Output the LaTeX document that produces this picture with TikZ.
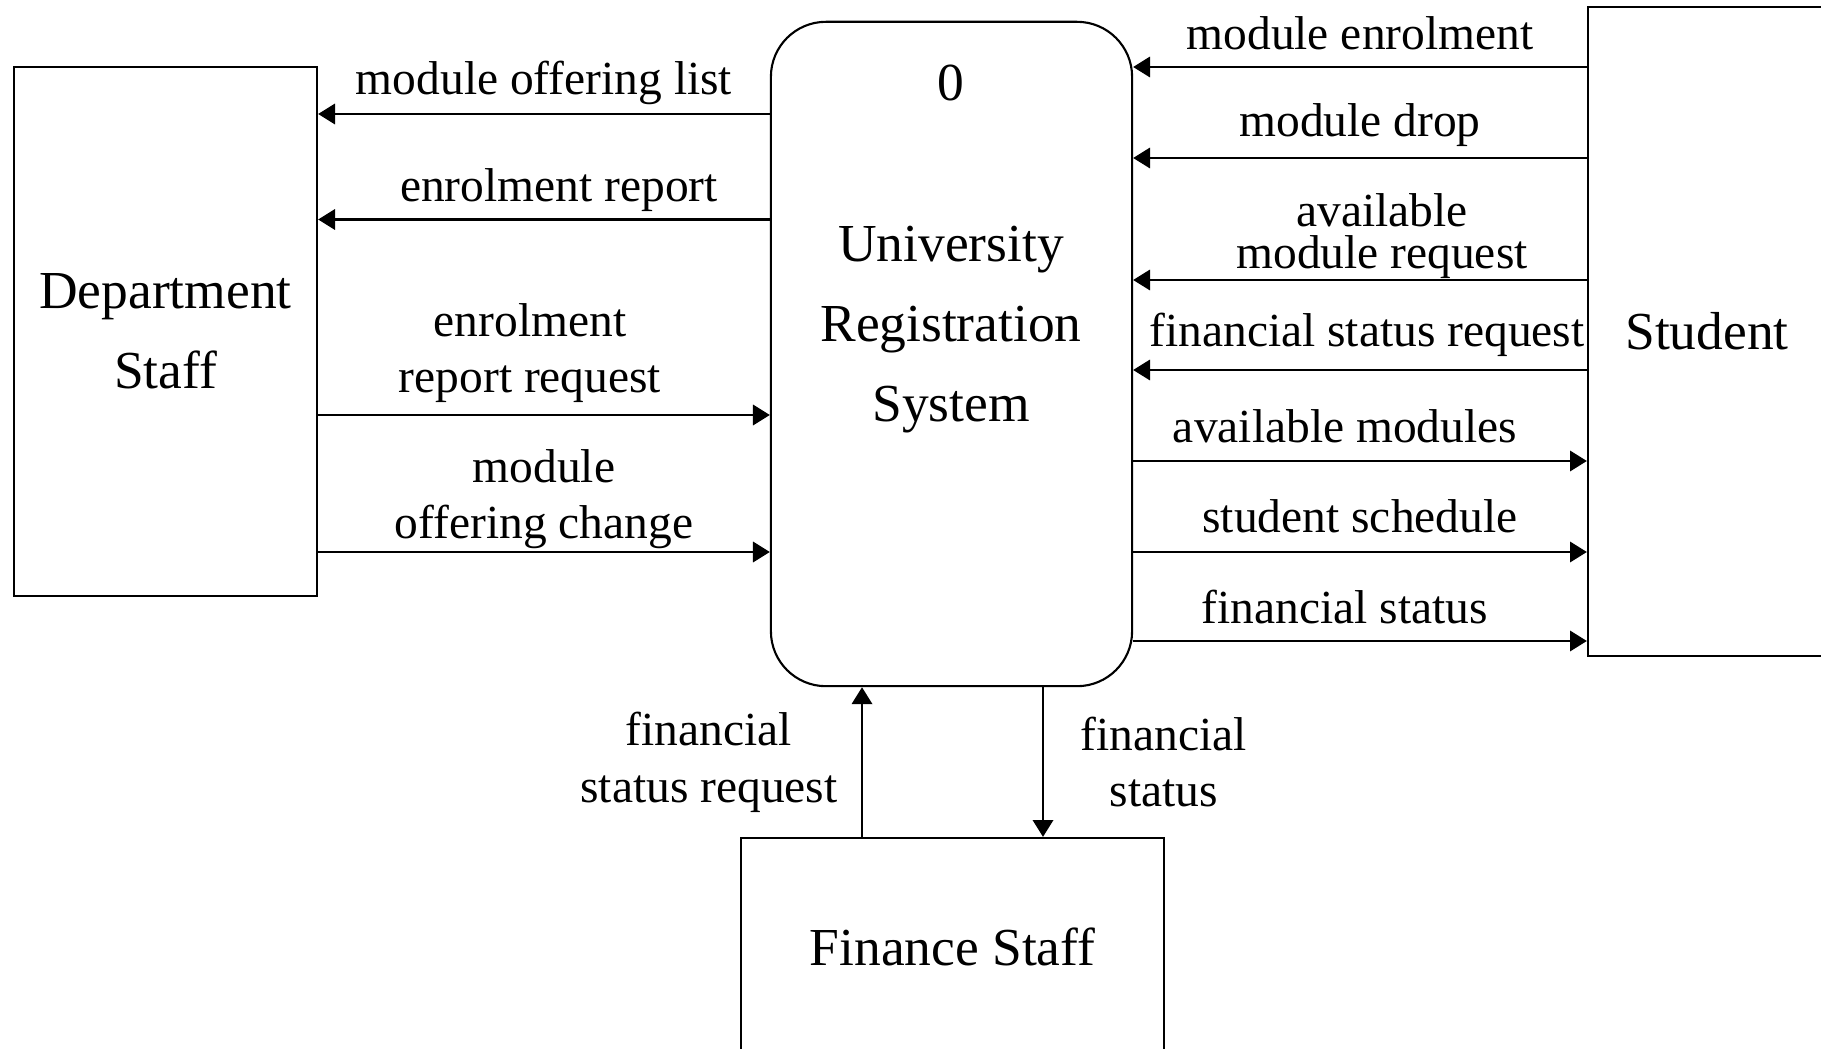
\documentclass[tikz,border=0pt]{standalone}
\usepackage{fontspec}
\setmainfont{Liberation Serif}
\usetikzlibrary{arrows.meta}

\tikzset{
	entity/.style = {draw, rectangle, line width = 0.6pt, align = center, font = \fontsize{15.2}{22.8}\selectfont},
	process/.style = {draw, rectangle, rounded corners = 0.55cm, line width = 0.6pt},
	proctext/.style = {align = center, font = \fontsize{15.2}{22.8}\selectfont},
	flowlabel/.style = {align = center, inner sep = 0pt, yshift = -1.2pt, font = \fontsize{13.5}{16}\selectfont},
	flow/.style = {line width = 0.65pt, -{Triangle[length = 4.8pt, width = 5.8pt]}}
}

\begin{document}
\begin{tikzpicture}[x = 0.01cm, y = -0.01cm]
					\useasboundingbox (0,0) rectangle (1821,1049);

					% external entities and the process
					\node [entity, minimum width = 3.03cm, minimum height = 5.29cm] (dept) at (165.5,331.5) {Department\\Staff};
					\node [process, minimum width = 3.61cm, minimum height = 6.64cm] (proc) at (951.5,354) {};
					\node [proctext] (proclbl) at (951,249) {0\\[22.8pt]University\\Registration\\System};
					\node [entity, minimum width = 2.38cm, minimum height = 6.49cm] (stud) at (1707,331.5) {Student};
					\node [entity, minimum width = 4.23cm, minimum height = 2.18cm] (fin) at (952.5,947) {Finance Staff};

					% data flows
					\begin{scope}[flow]
						\draw (proc.west |- 0,114) -- (dept.east |- 0,114);
						\draw (proc.west |- 0,219.5) -- (dept.east |- 0,219.5);
						\draw (dept.east |- 0,415) -- (proc.west |- 0,415);
						\draw (dept.east |- 0,552) -- (proc.west |- 0,552);

						\draw (stud.west |- 0,67) -- (proc.east |- 0,67);
						\draw (stud.west |- 0,158) -- (proc.east |- 0,158);
						\draw (stud.west |- 0,280) -- (proc.east |- 0,280);
						\draw (stud.west |- 0,370) -- (proc.east |- 0,370);
						\draw (proc.east |- 0,461) -- (stud.west |- 0,461);
						\draw (proc.east |- 0,552) -- (stud.west |- 0,552);
						\draw (proc.east |- 0,641) -- (stud.west |- 0,641);

						\draw (fin.north -| 862,0) -- (proc.south -| 862,0);
						\draw (proc.south -| 1043,0) -- (fin.north -| 1043,0);
					\end{scope}

					% flow labels
					\begin{scope}[every node/.style = flowlabel]
						\node (offerlist) at (544,79) {module offering list};
						\node (enrolrep) at (559,186) {enrolment report};
						\node (enrolreq) at (530,349) {enrolment\\report request};
						\node (offerchg) at (544,495) {module\\offering change};

						\node (modenrol) at (1360,29) {module enrolment};
						\node (moddrop) at (1360,121) {module drop};
						\node (availreq) at (1382,232) {available\\[-4pt]module request};
						\node (finreq) at (1367,331) {financial status request};
						\node (availmods) at (1345,422) {available modules};
						\node (schedule) at (1360,512) {student schedule};
						\node (finstat) at (1345,603) {financial status};

						\node (finreqb) at (709,758) {financial\\status request};
						\node (finstatb) at (1164,758) {financial\\status};
					\end{scope}
				\end{tikzpicture}
\end{document}
